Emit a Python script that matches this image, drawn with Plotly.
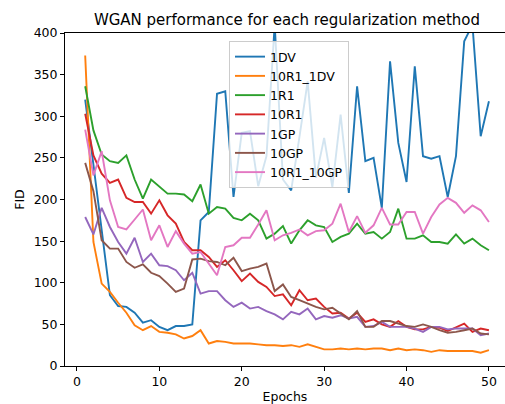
import plotly.graph_objects as go

epochs = list(range(1, 51))

dv1 = [320, 240, 158, 85, 72, 71, 64, 52, 55, 47,
       43, 48, 48, 50, 175, 185, 327, 330, 203, 280,
       282, 216, 252, 410, 224, 211, 275, 342, 226, 274,
       215, 302, 208, 336, 246, 250, 190, 366, 268, 221,
       360, 252, 249, 252, 203, 252, 390, 410, 276, 318]

r1_dv = [373, 149, 99, 89, 76, 64, 49, 43, 48, 41,
         40, 38, 33, 36, 43, 27, 30, 29, 27, 27,
         27, 26, 25, 25, 24, 25, 23, 26, 23, 20,
         20, 21, 20, 21, 20, 21, 21, 19, 21, 19,
         20, 19, 17, 19, 18, 18, 18, 18, 16, 19]

r1_1 = [336, 283, 254, 246, 244, 253, 224, 201, 224, 215,
        207, 207, 206, 198, 218, 183, 191, 189, 178, 175,
        183, 175, 153, 159, 168, 147, 163, 175, 169, 167,
        149, 155, 159, 171, 159, 161, 153, 161, 189, 153,
        153, 157, 149, 149, 147, 158, 147, 153, 145, 139]

r1_10 = [303, 253, 231, 220, 224, 202, 197, 197, 183, 199,
         181, 171, 149, 139, 139, 131, 119, 127, 115, 102,
         111, 101, 95, 84, 86, 73, 91, 79, 81, 71,
         63, 64, 57, 64, 53, 56, 50, 47, 54, 47,
         44, 44, 47, 46, 42, 47, 51, 41, 45, 43]

gp_1 = [179, 158, 190, 167, 149, 135, 154, 125, 135, 121,
        120, 115, 103, 112, 87, 90, 90, 79, 71, 76,
        69, 71, 66, 62, 56, 65, 62, 69, 56, 60,
        58, 61, 57, 59, 47, 48, 53, 47, 47, 47,
        45, 41, 47, 47, 44, 45, 45, 45, 37, 39]

gp_10 = [244, 210, 151, 141, 141, 125, 118, 122, 112, 108,
         99, 89, 93, 128, 129, 126, 125, 121, 130, 114,
         117, 119, 123, 90, 98, 83, 79, 75, 71, 68,
         70, 63, 56, 66, 47, 47, 54, 54, 51, 48,
         47, 50, 47, 43, 40, 41, 43, 45, 39, 38]

r1_gp = [284, 229, 258, 199, 167, 164, 176, 188, 151, 169,
         143, 162, 147, 135, 137, 123, 109, 143, 145, 154,
         154, 170, 187, 151, 157, 160, 164, 157, 162, 163,
         171, 195, 161, 180, 160, 169, 190, 170, 170, 185,
         185, 159, 179, 194, 202, 196, 184, 193, 187, 173]

names = ["1DV", "10R1_1DV", "1R1", "10R1", "1GP", "10GP", "10R1_10GP"]
series = [dv1, r1_dv, r1_1, r1_10, gp_1, gp_10, r1_gp]
colors = ["#1f77b4", "#ff7f0e", "#2ca02c", "#d62728", "#9467bd", "#8c564b", "#e377c2"]

fig = go.Figure()
for name, ys, c in zip(names, series, colors):
    fig.add_trace(go.Scatter(x=epochs, y=ys, mode="lines", name=name,
                             line=dict(color=c, width=1.9)))

font = "DejaVu Sans, Arial, sans-serif"
axis_common = dict(showgrid=False, zeroline=False, showline=True, linecolor="black",
                   linewidth=1, ticks="outside", ticklen=4, tickwidth=1, tickcolor="black",
                   tickfont=dict(family=font, size=12.5, color="black"))

fig.update_layout(
    width=505, height=404,
    margin=dict(l=65, r=0, t=33, b=38),
    paper_bgcolor="white", plot_bgcolor="white",
    font=dict(family=font, size=12.5, color="black"),
    title=dict(text="WGAN performance for each regularization method",
               x=0.5045, xref="paper", xanchor="center",
               y=1 - 20 / 404, yref="container", yanchor="middle",
               font=dict(family=font, size=15, color="black")),
    xaxis=dict(range=[-1.45, 51.95], tickvals=[0, 10, 20, 30, 40, 50], mirror=True,
               title=dict(text="Epochs", standoff=4, font=dict(family=font, size=12.5)),
               automargin=False, **axis_common),
    yaxis=dict(range=[0, 400], tickvals=list(range(0, 401, 50)),
               title=dict(text="FID", standoff=6, font=dict(family=font, size=12.5)),
               automargin=False, **axis_common),
    legend=dict(x=(229 - 65) / 440, y=(366 - 41) / 333, xanchor="left", yanchor="top",
                bgcolor="rgba(255,255,255,0.8)", bordercolor="#cccccc", borderwidth=1,
                font=dict(family=font, size=12.5, color="black"),
                itemwidth=30, tracegroupgap=0),
    showlegend=True,
)

fig.write_html("out.html",
               config={"displayModeBar": False},
               post_script="document.body.style.margin='0';document.body.style.overflow='hidden';")
